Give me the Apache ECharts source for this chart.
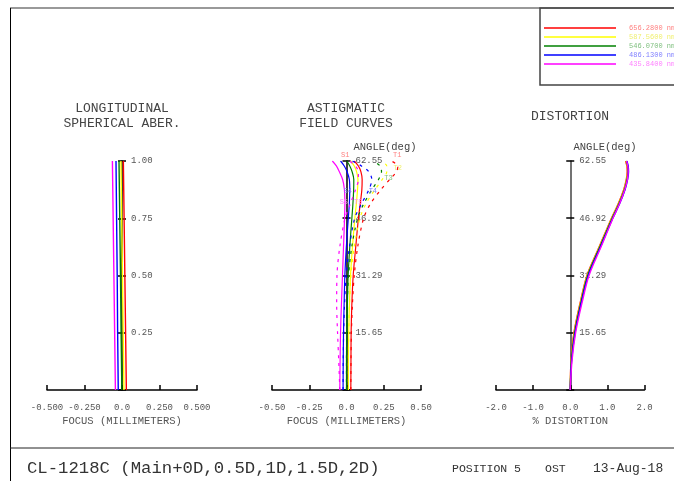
<!DOCTYPE html>
<html><head><meta charset="utf-8">
<script src="https://cdn.jsdelivr.net/npm/echarts@6/dist/echarts.min.js"></script>
<style>html,body{margin:0;padding:0;background:#fff}#c{width:674px;height:481px}</style>
</head><body><div id="c"></div>
<script>
// ---------- DATA ----------
const wavelengths = ['656.2800 nm', '587.5600 nm', '546.0700 nm', '486.1300 nm', '435.8400 nm'];

// Longitudinal spherical aberration: focus (mm) vs relative pupil height
const pupil = [0, 0.25, 0.5, 0.75, 1.0];
const lsaRed     = [0.029, 0.024, 0.019, 0.014, 0.009];
const lsaYellow  = [0.013, 0.008, 0.003, -0.002, -0.007];
const lsaGreen   = [-0.001, -0.006, -0.010, -0.015, -0.020];
const lsaBlue    = [-0.025, -0.029, -0.032, -0.036, -0.040];
const lsaMagenta = [-0.044, -0.049, -0.054, -0.059, -0.064];

// Astigmatic field curves: focus (mm) vs field angle (deg)
const fieldAngles = [0, 7.8, 15.65, 23.5, 31.29, 39.1, 46.92, 50.8, 54.7, 57.5, 59.6, 61.2, 62.55];
const sagRed     = [0.029, 0.030, 0.031, 0.036, 0.045, 0.062, 0.080, 0.092, 0.103, 0.105, 0.097, 0.080, 0.052];
const sagYellow  = [0.013, 0.013, 0.015, 0.020, 0.027, 0.040, 0.056, 0.066, 0.074, 0.077, 0.068, 0.052, 0.028];
const sagGreen   = [0.000, 0.000, 0.002, 0.006, 0.011, 0.022, 0.036, 0.043, 0.048, 0.049, 0.038, 0.022, 0.002];
const sagBlue    = [-0.023, -0.022, -0.020, -0.016, -0.011, -0.001, 0.012, 0.019, 0.022, 0.019, 0.004, -0.015, -0.040];
const sagMagenta = [-0.045, -0.043, -0.040, -0.034, -0.027, -0.020, -0.013, -0.011, -0.014, -0.026, -0.048, -0.068, -0.095];
const tanRed     = [0.029, 0.030, 0.033, 0.040, 0.052, 0.075, 0.115, 0.160, 0.230, 0.290, 0.335, 0.345, 0.300];
const tanYellow  = [0.013, 0.013, 0.015, 0.020, 0.030, 0.052, 0.090, 0.130, 0.190, 0.240, 0.270, 0.270, 0.230];
const tanGreen   = [0.000, 0.000, 0.001, 0.005, 0.014, 0.035, 0.075, 0.115, 0.170, 0.215, 0.235, 0.225, 0.180];
const tanBlue    = [-0.023, -0.022, -0.019, -0.013, -0.002, 0.020, 0.055, 0.100, 0.150, 0.170, 0.150, 0.100, 0.040];
const tanMagenta = [-0.045, -0.052, -0.060, -0.066, -0.064, -0.045, -0.010, 0.025, 0.060, 0.080, 0.080, 0.060, 0.020];

// Distortion (%) vs field angle (deg)
const distRed     = [0, 0.020, 0.100, 0.260, 0.450, 0.780, 1.110, 1.290, 1.440, 1.510, 1.535, 1.525, 1.490];
const distYellow  = [0, 0.025, 0.110, 0.270, 0.460, 0.790, 1.120, 1.300, 1.450, 1.520, 1.545, 1.535, 1.500];
const distGreen   = [0, 0.030, 0.120, 0.280, 0.470, 0.800, 1.130, 1.310, 1.460, 1.530, 1.555, 1.545, 1.510];
const distBlue    = [0, 0.035, 0.130, 0.290, 0.485, 0.815, 1.145, 1.325, 1.475, 1.545, 1.570, 1.560, 1.525];
const distMagenta = [0, 0.045, 0.145, 0.310, 0.505, 0.830, 1.150, 1.325, 1.470, 1.540, 1.560, 1.550, 1.515];

// Tick labels
const lsaXTicks   = ['-0.500', '-0.250', '0.0', '0.250', '0.500'];
const lsaYTicks   = ['', '0.25', '0.50', '0.75', '1.00'];
const fieldXTicks = ['-0.50', '-0.25', '0.0', '0.25', '0.50'];
const angleTicks  = ['', '15.65', '31.29', '46.92', '62.55'];
const distXTicks  = ['-2.0', '-1.0', '0.0', '1.0', '2.0'];

// ---------- STYLE ----------
const colors = ['#ff0000', '#ffff00', '#008000', '#0000ff', '#ff00ff'];
const textColors = ['#ff8080', '#f0f070', '#80c080', '#8080ff', '#ff80ff'];
const FONT = "'Liberation Mono','Courier New',monospace";
const LBL = '#555';

const lsaAll  = [lsaRed, lsaYellow, lsaGreen, lsaBlue, lsaMagenta];
const sagAll  = [sagRed, sagYellow, sagGreen, sagBlue, sagMagenta];
const tanAll  = [tanRed, tanYellow, tanGreen, tanBlue, tanMagenta];
const distAll = [distRed, distYellow, distGreen, distBlue, distMagenta];

// curve-tag placement (series colour index, data index, text, pixel offset)
const sagTags = [{w: 0, i: 12, t: 'S1', off: [-9, -6]}, {w: 3, i: 8, t: 'S4', off: [-2, 1]}, {w: 4, i: 7, t: 'S5', off: [-1, -2]}];
const tanTags = [{w: 0, i: 12, t: 'T1', off: [6, -6]}, {w: 1, i: 11, t: 'T2', off: [11, 2]}, {w: 2, i: 9, t: 'T3', off: [10, -1]},
                 {w: 3, i: 8, t: 'T4', off: [4, 1]}, {w: 4, i: 7, t: 'T5', off: [8, -2]}];

const grids = [
  {left: 47, top: 161, width: 150, height: 229},
  {left: 272, top: 161, width: 149, height: 229},
  {left: 496, top: 161, width: 148.5, height: 229}
];

function build(xs, ys, tags, w) {
  return ys.map((y, i) => {
    const tag = tags ? tags.find(t => t.w === w && t.i === i) : null;
    const item = {value: [xs[i], y]};
    if (tag) item.label = {show: true, position: 'inside', formatter: tag.t, offset: tag.off,
      color: textColors[w], fontSize: 7, fontFamily: FONT};
    return item;
  });
}
function pairs(xvals, yvals) { return yvals.map((y, i) => [xvals[i], y]); }

function xAxisCfg(g, min, max, interval, ticks, name) {
  return {gridIndex: g, type: 'value', min, max, interval, name, nameLocation: 'middle', nameGap: 26,
    nameTextStyle: {fontFamily: FONT, fontSize: 10.5, color: LBL},
    axisLine: {onZero: false, lineStyle: {color: '#000', width: 1.5}},
    axisTick: {inside: true, length: 5, lineStyle: {color: '#000', width: 1.5}},
    axisLabel: {margin: 13, fontFamily: FONT, fontSize: 9, color: LBL, hideOverlap: false,
      formatter: v => ticks[Math.round((v - min) / interval)]},
    splitLine: {show: false}};
}
// vertical axis drawn through focus = 0 (centre of symmetric x range)
function yAxisPair(g, max, interval, ticks, lineColor) {
  const base = {gridIndex: g, type: 'value', min: 0, max, interval, splitLine: {show: false}};
  const off = -grids[g].width / 2;
  return [
    Object.assign({}, base, {position: 'left', offset: off,
      axisLine: {onZero: false, lineStyle: {color: lineColor, width: 1.5}},
      axisTick: {length: 4, lineStyle: {color: '#000', width: 1.5}},
      axisLabel: {inside: true, margin: 9, fontFamily: FONT, fontSize: 9, color: LBL, hideOverlap: false,
        formatter: v => ticks[Math.round(v / interval)]}}),
    Object.assign({}, base, {position: 'right', offset: off,
      axisLine: {show: false, onZero: false},
      axisTick: {length: 4, lineStyle: {color: '#000', width: 1.5}},
      axisLabel: {show: false}})
  ];
}

const series = [];
lsaAll.forEach((d, w) => series.push({name: wavelengths[w], type: 'line', xAxisIndex: 0, yAxisIndex: 0,
  data: pairs(d, pupil), showSymbol: false, lineStyle: {color: colors[w], width: 1.4}, itemStyle: {color: colors[w]}, z: 3}));
sagAll.forEach((d, w) => series.push({name: wavelengths[w], type: 'line', xAxisIndex: 1, yAxisIndex: 2,
  data: build(d, fieldAngles, sagTags, w), symbol: 'circle', symbolSize: 0, showSymbol: true,
  smooth: 0.3, lineStyle: {color: colors[w], width: 1.2}, itemStyle: {color: colors[w]}, z: 3}));
tanAll.forEach((d, w) => series.push({name: wavelengths[w], type: 'line', xAxisIndex: 1, yAxisIndex: 2,
  data: build(d, fieldAngles, tanTags, w), symbol: 'circle', symbolSize: 0, showSymbol: true,
  smooth: 0.3, lineStyle: {color: colors[w], width: 1.2, type: [3, 5]}, itemStyle: {color: colors[w]}, z: 3}));
distAll.forEach((d, w) => series.push({name: wavelengths[w], type: 'line', xAxisIndex: 2, yAxisIndex: 4,
  data: pairs(d, fieldAngles), showSymbol: false, smooth: 0.3,
  lineStyle: {color: colors[w], width: 1.4}, itemStyle: {color: colors[w]}, z: 3}));

function txt(x, y, text, size, align, color) {
  return {type: 'text', x, y, silent: true, style: {text, font: size + 'px ' + FONT, fill: color || '#444',
    align: align || 'center', verticalAlign: 'middle'}};
}
function ln(x1, y1, x2, y2, color, width) {
  return {type: 'line', silent: true, shape: {x1, y1, x2, y2}, style: {stroke: color, lineWidth: width}};
}

const option = {
  animation: false,
  backgroundColor: '#fff',
  grid: grids,
  xAxis: [
    xAxisCfg(0, -0.5, 0.5, 0.25, lsaXTicks, 'FOCUS (MILLIMETERS)'),
    xAxisCfg(1, -0.5, 0.5, 0.25, fieldXTicks, 'FOCUS (MILLIMETERS)'),
    xAxisCfg(2, -2, 2, 1, distXTicks, '% DISTORTION')
  ],
  yAxis: [].concat(
    yAxisPair(0, 1, 0.25, lsaYTicks, '#000'),
    yAxisPair(1, 62.55, 15.6375, angleTicks, '#000'),
    yAxisPair(2, 62.55, 15.6375, angleTicks, '#444')
  ),
  legend: {
    orient: 'vertical', left: 539, top: 18.5, itemWidth: 72, itemHeight: 1.5, itemGap: 0, icon: 'rect',
    selectedMode: false,
    data: wavelengths.map((w, i) => ({name: w, textStyle: {color: textColors[i]}})),
    textStyle: {fontFamily: FONT, fontSize: 7, lineHeight: 9, padding: [0, 0, 0, 8]}
  },
  graphic: [
    ln(10, 8, 674, 8, '#999', 2),
    ln(10.5, 8, 10.5, 481, '#000', 1),
    ln(10, 448, 674, 448, '#222', 1),
    {type: 'rect', silent: true, shape: {x: 540, y: 8, width: 140, height: 77}, style: {fill: 'none', stroke: '#444', lineWidth: 1.5}},
    txt(122, 109, 'LONGITUDINAL', 13),
    txt(122, 124, 'SPHERICAL ABER.', 13),
    txt(346, 109, 'ASTIGMATIC', 13),
    txt(346, 124, 'FIELD CURVES', 13),
    txt(570, 117, 'DISTORTION', 13),
    txt(385, 147, 'ANGLE(deg)', 10.5),
    txt(605, 147, 'ANGLE(deg)', 10.5),
    txt(27, 468, 'CL-1218C (Main+0D,0.5D,1D,1.5D,2D)', 17.3, 'left', '#333'),
    txt(452, 469, 'POSITION 5', 11.5, 'left', '#333'),
    txt(545, 469, 'OST', 11.5, 'left', '#333'),
    txt(593, 469, '13-Aug-18', 13, 'left', '#333')
  ],
  series
};
const chart = echarts.init(document.getElementById('c'), null, {renderer: 'canvas'});
chart.setOption(option);
</script></body></html>
